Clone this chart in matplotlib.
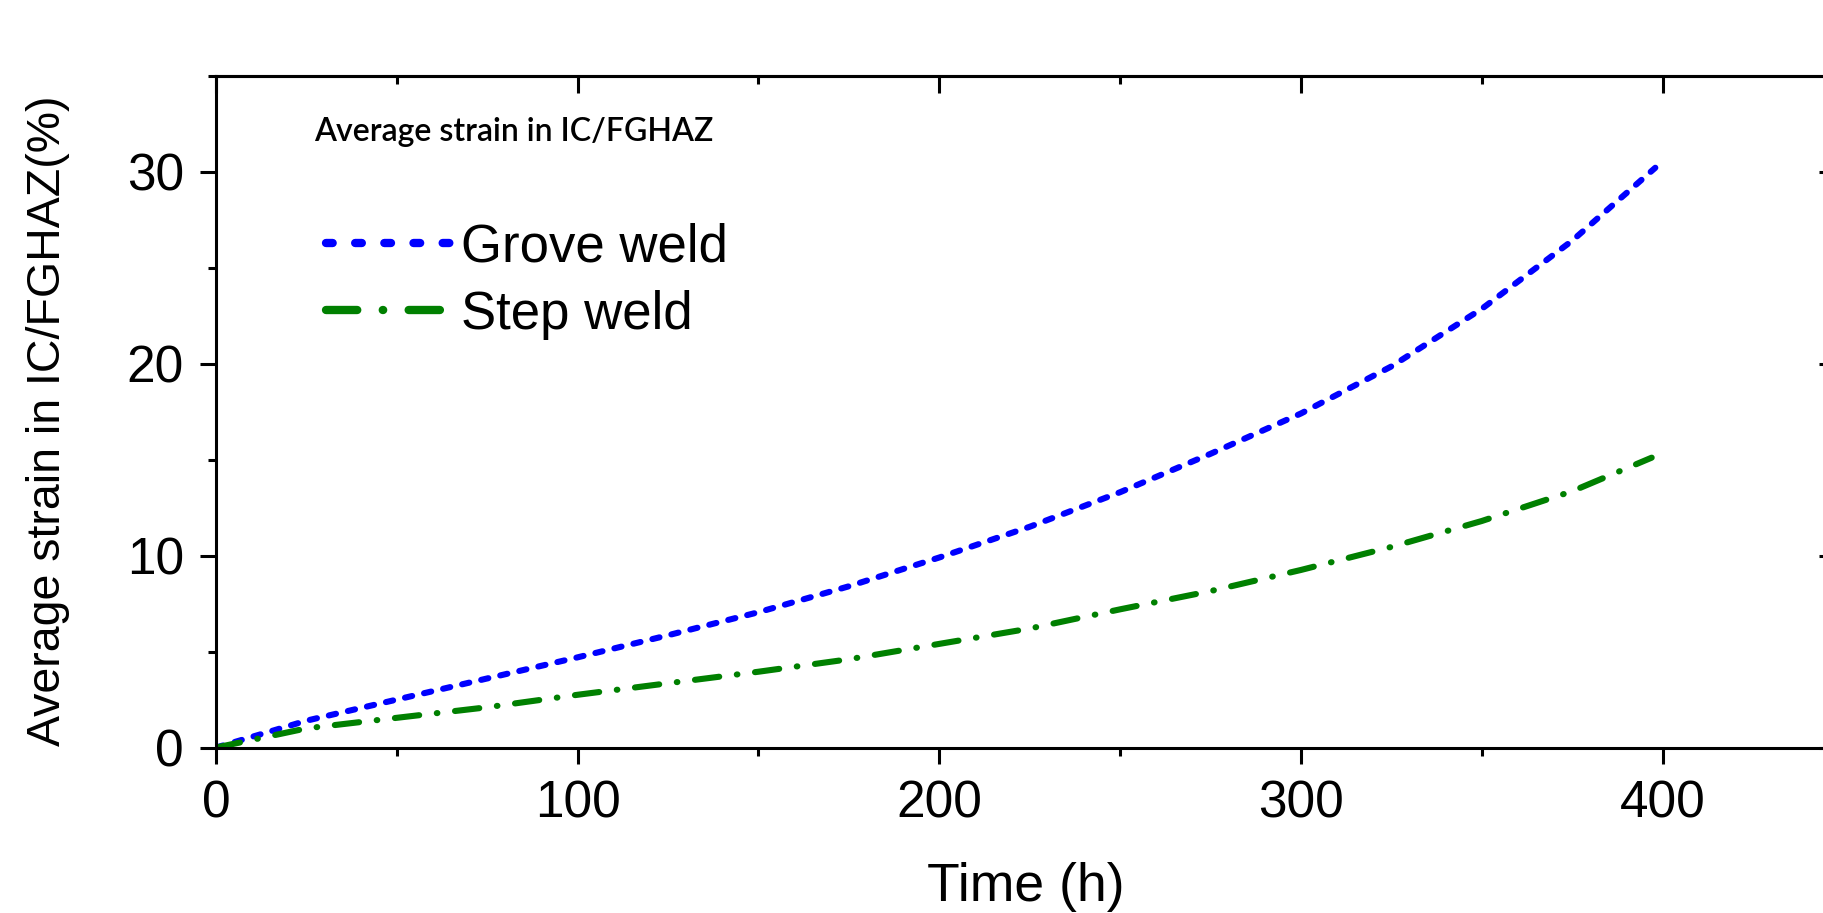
import matplotlib
matplotlib.use("Agg")
import matplotlib.pyplot as plt
from matplotlib.lines import Line2D
from matplotlib.ticker import MultipleLocator

# time (h)
time_grove = [0, 25, 50, 75, 100, 125, 150, 175, 200, 225, 250, 275, 300, 325, 350, 375, 398]
strain_grove = [0, 1.4, 2.5, 3.6, 4.7, 5.85, 7.05, 8.4, 9.9, 11.5, 13.3, 15.3, 17.4, 19.85, 22.85, 26.4, 30.2]

time_step = [0, 25, 50, 75, 100, 125, 150, 175, 200, 225, 250, 275, 300, 325, 350, 375, 397]
strain_step = [0, 1.0, 1.55, 2.1, 2.75, 3.35, 3.95, 4.6, 5.4, 6.2, 7.2, 8.15, 9.25, 10.45, 11.8, 13.35, 15.1]

labels = ["Grove weld", "Step weld"]
x_ticks = [0, 100, 200, 300, 400]
y_ticks = [0, 10, 20, 30]

plt.rcParams['font.family'] = ['Liberation Sans', 'DejaVu Sans']

fig = plt.figure(figsize=(18.23, 9.13), dpi=100)
ax = fig.add_axes([0.1185, 0.1812, 0.8887, 0.736])

ax.plot(time_grove, strain_grove, color="#0000ff", lw=4.4,
        linestyle=(0, (1.2, 2.0)), dash_capstyle="round")
ax.plot(time_step, strain_step, color="#008000", lw=4.4,
        linestyle=(0, (4.0, 2.9, 0.1, 2.9)), dash_capstyle="round")

ax.set_xlim(0, 448)
ax.set_ylim(0, 35)
ax.set_xticks(x_ticks)
ax.set_yticks(y_ticks)
ax.xaxis.set_minor_locator(MultipleLocator(50))
ax.yaxis.set_minor_locator(MultipleLocator(5))

for s in ax.spines.values():
    s.set_linewidth(2.2)
ax.tick_params(which="major", direction="out", length=11.5, width=2.2, labelsize=37, pad=11.5)
ax.tick_params(which="minor", direction="out", length=6, width=2.2)

# inward ticks on top and right
top = ax.secondary_xaxis("top")
top.set_xticks(x_ticks)
top.xaxis.set_minor_locator(MultipleLocator(50))
top.tick_params(which="major", direction="in", length=12, width=2.2, labeltop=False)
top.tick_params(which="minor", direction="in", length=6, width=2.2)
top.spines["top"].set_linewidth(2.2)
right = ax.secondary_yaxis("right")
right.set_yticks(y_ticks)
right.yaxis.set_minor_locator(MultipleLocator(5))
right.tick_params(which="major", direction="in", length=12, width=2.2, labelright=False)
right.tick_params(which="minor", direction="in", length=6, width=2.2)

ax.set_xlabel("Time (h)", fontsize=38.5)
ax.xaxis.set_label_coords(0.5, -0.171)
ax.set_ylabel("Average strain in IC/FGHAZ(%)", fontsize=33.5)
ax.yaxis.set_label_coords(-0.09, 0.486)

ax.text(0.0605, 0.916, "Average strain in IC/FGHAZ", transform=ax.transAxes,
        fontsize=23, family="Lato", fontweight="semibold", va="center", ha="left")

# legend proxies (legend dashes are drawn longer than in the plot)
handles = [
    Line2D([], [], color="#0000ff", lw=6, linestyle=(0, (0.8, 2.7)), dash_capstyle="round"),
    Line2D([], [], color="#008000", lw=6, linestyle=(0, (3.75, 3.06, 0.05, 3.06)), dash_capstyle="round"),
]
ax.legend(handles, labels, loc="upper left", bbox_to_anchor=(0.068, 0.782), frameon=False,
          fontsize=38, handlelength=2.35, handletextpad=0.2, labelspacing=0.33,
          borderpad=0, borderaxespad=0)

fig.savefig("out.png", dpi=100)
